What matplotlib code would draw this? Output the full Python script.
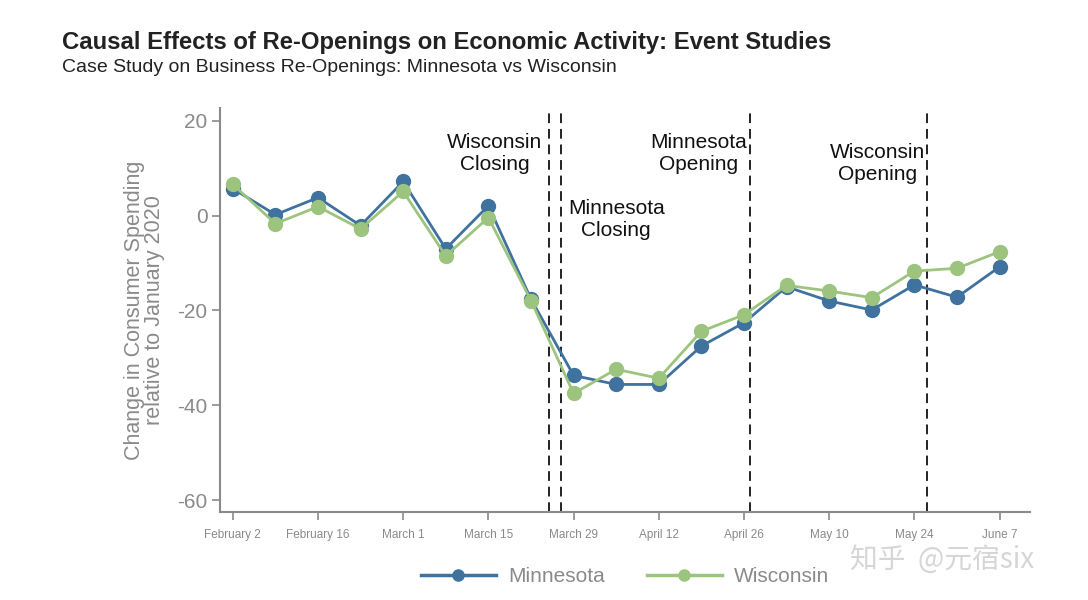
import matplotlib
matplotlib.use("Agg")
import matplotlib.pyplot as plt
from matplotlib.lines import Line2D
import pandas as pd

plt.rcParams["font.family"] = ["Liberation Sans", "DejaVu Sans"]
plt.rcParams["axes.unicode_minus"] = False

# weekly observations, Feb 2 .. Jun 7 2020
weeks = pd.date_range("2020-02-02", "2020-06-07", freq="7D")
minnesota = [5.7, 0.2, 3.8, -2.1, 7.2, -7.0, 2.1, -17.6, -33.7, -35.6,
             -35.6, -27.5, -22.6, -15.0, -18.0, -19.9, -14.6, -17.2, -10.8]
wisconsin = [6.6, -1.7, 1.9, -2.8, 5.1, -8.5, -0.4, -17.9, -37.5, -32.4,
             -34.3, -24.4, -20.9, -14.7, -15.9, -17.3, -11.7, -11.1, -7.6]

tick_dates = weeks[::2]
tick_labels = [f"{d:%B} {d.day}" for d in tick_dates]

events = pd.to_datetime(["2020-03-25", "2020-03-27", "2020-04-27", "2020-05-26"])
notes = ["Wisconsin\nClosing", "Minnesota\nClosing", "Minnesota\nOpening", "Wisconsin\nOpening"]
note_x = pd.to_datetime(["2020-03-16 00:00", "2020-04-05 00:00", "2020-04-18 12:00", "2020-05-18 00:00"])
note_y = [13.2, -0.9, 13.2, 11.1]

BLUE = "#3f729f"
GREEN = "#9cc47f"
GREY = "#8a8a8a"

fig = plt.figure(figsize=(10.88, 6.0), dpi=100)
ax = fig.add_axes([220 / 1088, 88 / 600, 810 / 1088, 404 / 600])

ax.plot(weeks, minnesota, color=BLUE, lw=2.0, marker="o", ms=10, label="Minnesota", zorder=3)
ax.plot(weeks, wisconsin, color=GREEN, lw=2.0, marker="o", ms=10, label="Wisconsin", zorder=4)

for d in events:
    ax.axvline(d, color="#222222", ls=(0, (5, 3)), lw=1.4, zorder=2)
for x, y, t in zip(note_x, note_y, notes):
    ax.text(x, y, t, ha="center", va="center", fontsize=15, color="#111111",
            linespacing=1.2)

ax.set_xlim(weeks[0] - pd.Timedelta(days=2.1), weeks[-1] + pd.Timedelta(days=5))
ax.set_ylim(-62.5, 22.7)
ax.set_yticks([20, 0, -20, -40, -60])
ax.set_xticks(tick_dates)
ax.set_xticklabels(tick_labels)
ax.tick_params(axis="y", labelsize=15, colors=GREY, length=6, width=1.2, pad=3)
ax.tick_params(axis="x", labelsize=8.5, colors=GREY, length=6, width=1.2, pad=6)
for s in ("top", "right"):
    ax.spines[s].set_visible(False)
for s in ("left", "bottom"):
    ax.spines[s].set_color(GREY)
    ax.spines[s].set_linewidth(1.5)

ax.set_ylabel("Change in Consumer Spending\nrelative to January 2020", fontsize=15.5,
              color=GREY, linespacing=0.95, labelpad=9)

fig.text(62 / 1088, 1 - 42 / 600, "Causal Effects of Re-Openings on Economic Activity: Event Studies",
         fontsize=17.2, fontweight="bold", color="#222222", va="center")
fig.text(62 / 1088, 1 - 67 / 600, "Case Study on Business Re-Openings: Minnesota vs Wisconsin",
         fontsize=14, color="#222222", va="center")

handles = [Line2D([], [], color=c, lw=2.5, marker="o", ms=8) for c in (BLUE, GREEN)]
labels = ["Minnesota", "Wisconsin"]
fig.legend(handles, labels, loc="center", bbox_to_anchor=(625 / 1088, 1 - 577 / 600), ncol=2,
           frameon=False, fontsize=15, labelcolor=GREY, handlelength=3.6,
           columnspacing=2.0, handletextpad=0.6)

fig.text(850 / 1088, 1 - 560 / 600, "知乎  @元宿six", fontsize=20, color="#d6d6d6",
         va="center", family=["Noto Sans CJK SC", "DejaVu Sans"])

fig.savefig("out.png", dpi=100, facecolor="white")
